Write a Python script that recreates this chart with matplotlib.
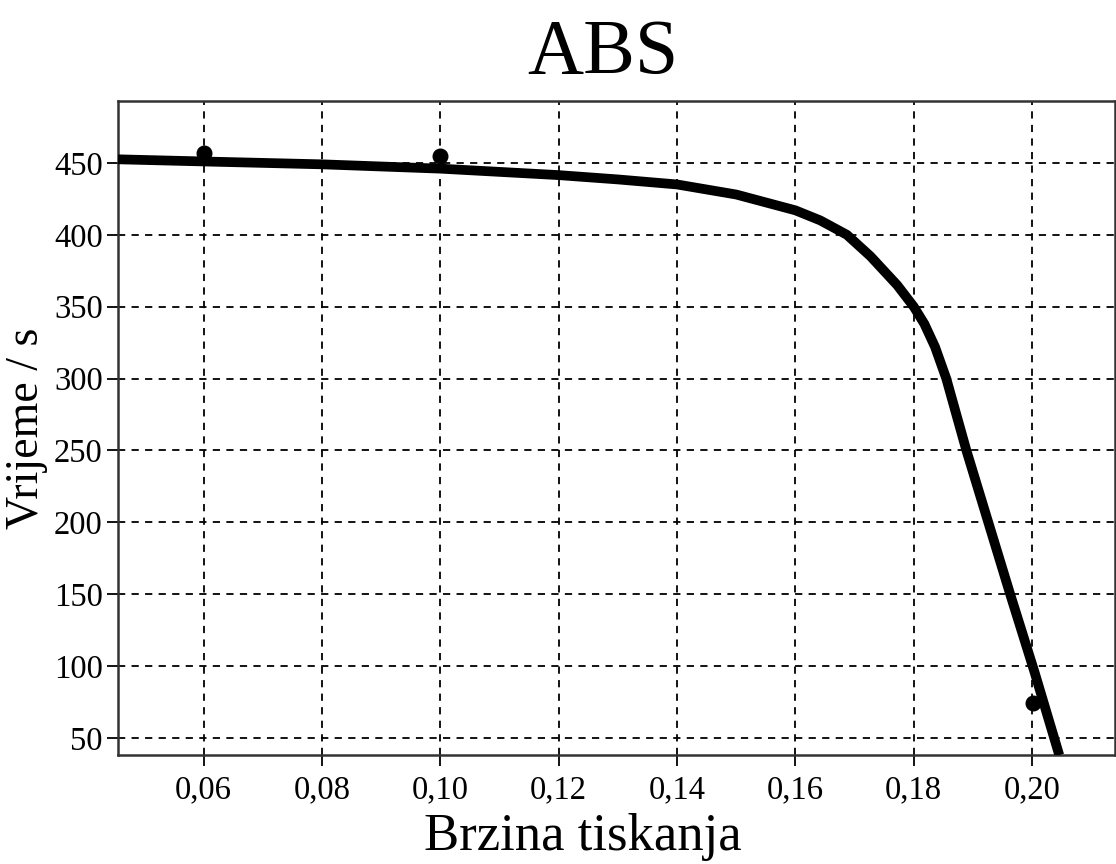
import matplotlib
matplotlib.use("Agg")
import matplotlib.pyplot as plt
from matplotlib.ticker import FuncFormatter

# measured points
meas_x = [0.06, 0.10, 0.2002]
meas_y = [457, 455, 74]

# fitted curve
fit_x = [0.0455, 0.06, 0.08, 0.10, 0.12, 0.13, 0.14, 0.15, 0.16, 0.1642, 0.1687,
         0.1727, 0.1772, 0.18, 0.1818, 0.1836, 0.1855, 0.1889, 0.1926, 0.1963,
         0.2004, 0.2046]
fit_y = [452.5, 451, 449, 446, 441.5, 438.5, 435, 428, 417, 410, 400,
         385, 365, 350, 338, 322, 300, 250, 200, 150,
         96, 38]

x_ticks = [0.06, 0.08, 0.10, 0.12, 0.14, 0.16, 0.18, 0.20]
y_ticks = [50, 100, 150, 200, 250, 300, 350, 400, 450]

plt.rcParams['font.family'] = ['Liberation Serif', 'DejaVu Serif']

fig = plt.figure(figsize=(11.16, 8.64), dpi=100)
ax = fig.add_axes([0.1057, 0.126, 0.8933, 0.757])

ax.plot(fit_x, fit_y, color='black', linewidth=7, solid_capstyle='butt',
        solid_joinstyle='round', zorder=3)
ax.plot(meas_x, meas_y, 'o', color='black', markersize=10.5, zorder=4)

ax.set_xlim(0.0455, 0.214)
ax.set_ylim(38, 493)
ax.set_xticks(x_ticks)
ax.set_yticks(y_ticks)
ax.xaxis.set_major_formatter(FuncFormatter(lambda v, p: f"{v:.2f}".replace('.', ',')))

ax.grid(True, color='black', linestyle=(0, (4, 3.5)), linewidth=1.3)
ax.tick_params(axis='both', labelsize=23.5, length=8, width=1.3, direction='out', pad=3)
ax.tick_params(axis='x', pad=6)
for s in ax.spines.values():
    s.set_linewidth(1.8)
    s.set_color('#333333')

ax.set_title('ABS', fontsize=56, pad=20, x=0.486)
ax.set_xlabel('Brzina tiskanja', fontsize=38, labelpad=6, x=0.466)
ax.set_ylabel('Vrijeme / s', fontsize=33, labelpad=4)

fig.savefig('out.png', dpi=100)
